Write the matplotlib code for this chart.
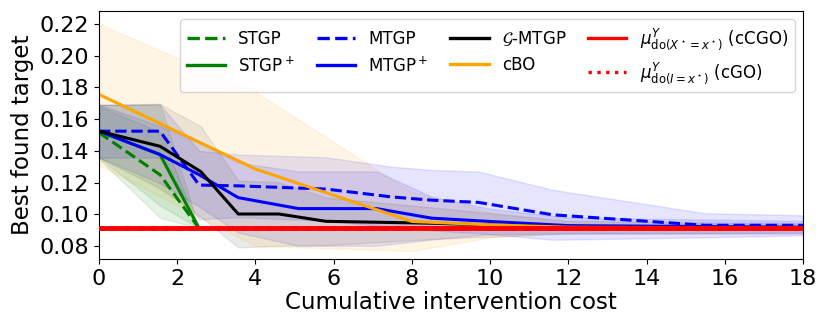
import numpy as np
import matplotlib
matplotlib.use("Agg")
import matplotlib.pyplot as plt

# ---- data ----
stgp_x = [0, 1.56, 2.56, 18]
stgp_y = [0.1515, 0.1250, 0.0912, 0.0912]
stgp_s = [0.0165, 0.0270, 0.0, 0.0]

stgpp_x = [0, 1.56, 2.56, 18]
stgpp_y = [0.1524, 0.1377, 0.0912, 0.0912]
stgpp_s = [0.0165, 0.0320, 0.0, 0.0]

mtgp_x = [0, 1.56, 2.56, 3.56, 5.8, 7.5, 8.5, 9.7, 11.6, 15.5, 18]
mtgp_y = [0.1524, 0.1524, 0.1185, 0.1180, 0.1160, 0.1110, 0.1090, 0.1076, 0.0998, 0.0932, 0.0932]
mtgp_s = [0.0166, 0.0166, 0.0215, 0.0197, 0.0200, 0.0190, 0.0190, 0.0194, 0.0157, 0.0076, 0.0063]

mtgpp_x = [0, 1.56, 2.56, 3.56, 5.1, 7.1, 8.5, 10, 12, 18]
mtgpp_y = [0.1524, 0.1377, 0.1250, 0.1106, 0.1037, 0.1037, 0.0977, 0.0956, 0.0930, 0.0920]
mtgpp_s = [0.0166, 0.0180, 0.0200, 0.0220, 0.0234, 0.0234, 0.0135, 0.0080, 0.0050, 0.0040]

gmtgp_x = [0, 1.56, 2.6, 3.56, 4.6, 5.8, 8.5, 12, 18]
gmtgp_y = [0.1524, 0.1429, 0.1270, 0.1003, 0.1003, 0.0957, 0.0945, 0.0920, 0.0915]
gmtgp_s = [0.0165, 0.0265, 0.0285, 0.0210, 0.0200, 0.0150, 0.0100, 0.0040, 0.0030]

cbo_x = [0, 4, 8, 10, 12, 18]
cbo_y = [0.1755, 0.1286, 0.0956, 0.0935, 0.0920, 0.0915]
cbo_s = [0.0445, 0.0485, 0.0185, 0.0080, 0.0030, 0.0020]

mu_ccgo = 0.0912
mu_cgo = 0.0912

x_ticks = [0, 2, 4, 6, 8, 10, 12, 14, 16, 18]
y_ticks = [0.08, 0.10, 0.12, 0.14, 0.16, 0.18, 0.20, 0.22]

# ---- plot ----
fig = plt.figure(figsize=(8.3, 3.32), dpi=100)
ax = fig.add_axes([0.1193, 0.2199, 0.8482, 0.7470])

def band(x, y, s, color, ls, label, lw=2.2, alpha=0.1):
    x = np.asarray(x); y = np.asarray(y); s = np.asarray(s)
    ax.fill_between(x, y - s, y + s, color=color, alpha=alpha)
    ax.plot(x, y, color=color, ls=ls, lw=lw, label=label)

band(stgp_x, stgp_y, stgp_s, 'green', '--', 'STGP')
band(stgpp_x, stgpp_y, stgpp_s, 'green', '-', r'STGP$^+$')
band(mtgp_x, mtgp_y, mtgp_s, 'blue', '--', 'MTGP')
band(mtgpp_x, mtgpp_y, mtgpp_s, 'blue', '-', r'MTGP$^+$')
band(gmtgp_x, gmtgp_y, gmtgp_s, 'black', '-', r'$\mathcal{G}$-MTGP', alpha=0.08)
band(cbo_x, cbo_y, cbo_s, 'orange', '-', 'cBO')

ax.axhline(mu_cgo, color='red', ls=':', lw=3.5, label=r'$\mu^{Y}_{\mathrm{do}(I=x^\star)}$ (cGO)', zorder=4)
ax.axhline(mu_ccgo, color='red', ls='-', lw=3.5, label=r'$\mu^{Y}_{\mathrm{do}(X^\star=x^\star)}$ (cCGO)', zorder=5)

ax.set_xlim(0, 18)
ax.set_ylim(0.072, 0.228)
ax.set_xticks(x_ticks)
ax.set_yticks(y_ticks)
ax.set_yticklabels([f"{v:.2f}" for v in y_ticks])
ax.tick_params(labelsize=16)
ax.set_xlabel('Cumulative intervention cost', fontsize=16.5, labelpad=2)
ax.set_ylabel('Best found target', fontsize=16.5, labelpad=4)

h, l = ax.get_legend_handles_labels()
order = [0, 1, 2, 3, 4, 5, 7, 6]
leg = ax.legend([h[i] for i in order], [l[i] for i in order], ncol=4, loc='upper right',
                fontsize=12, handlelength=2.3, columnspacing=1.3)
for ln in leg.get_lines():
    ln.set_linewidth(2.4)

fig.savefig('out.png', dpi=100)
